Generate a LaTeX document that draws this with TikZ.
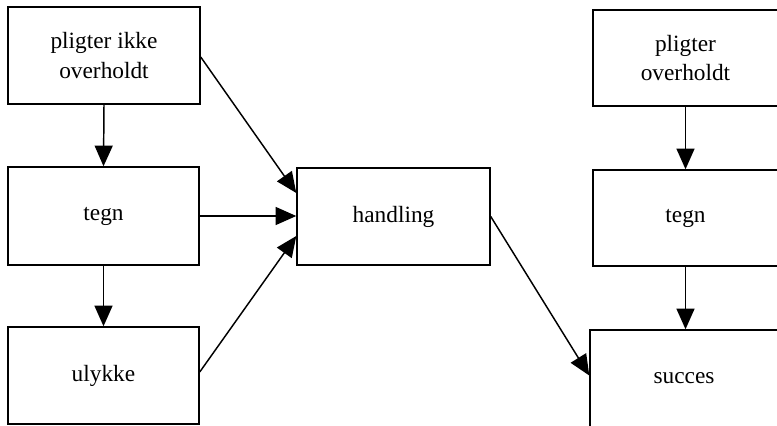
\documentclass[tikz,border=0pt]{standalone}
\usepackage{fontspec}
\setmainfont{Liberation Serif}
\usetikzlibrary{arrows.meta,calc}
\begin{document}
\begin{tikzpicture}[x=0.75pt,y=-0.75pt,
  box/.style={draw=black,line width=1.1pt,rectangle,inner sep=0pt,align=center,
    font=\fontsize{17.5}{22}\selectfont},
  conn/.style={line width=1.1pt,-{Triangle[length=15.5pt,width=13.5pt]}}]
\useasboundingbox (0,0) rectangle (777,425);
\node[box,minimum width=144pt,minimum height=72.75pt] (A) at (104,55.5) {pligter ikke\\overholdt};
\node[box,minimum width=143.25pt,minimum height=73.5pt] (B) at (103.5,216) {tegn};
\node[box,minimum width=143.25pt,minimum height=72.75pt] (C) at (103.5,375.5) {ulykke};
\node[box,minimum width=144.75pt,minimum height=72.75pt] (H) at (393.5,216.5) {handling};
\node[box,minimum width=138.75pt,minimum height=72pt] (P) at (685.5,58) {pligter\\overholdt};
\node[box,minimum width=138.75pt,minimum height=72pt] (Q) at (685.5,218) {tegn};
\node[box,minimum width=141pt,minimum height=72.75pt] (S) at (684,378.5) {succes};
\draw[conn] (A.south) -- (B.north);
\draw[conn] (B.south) -- (C.north);
\draw[conn] ($(A.east)+(0,1.5)$) -- ($(H.west)+(0,-23.5)$);
\draw[conn] (B.east) -- (B.east -| H.west);
\draw[conn] ($(C.east)+(0,-3.5)$) -- ($(H.west)+(0,19.5)$);
\draw[conn] (H.east) -- ($(S.west)+(0,-3)$);
\draw[conn] (P.south) -- (Q.north);
\draw[conn] (Q.south) -- ($(S.north)+(1.5,0)$);
\end{tikzpicture}
\end{document}
